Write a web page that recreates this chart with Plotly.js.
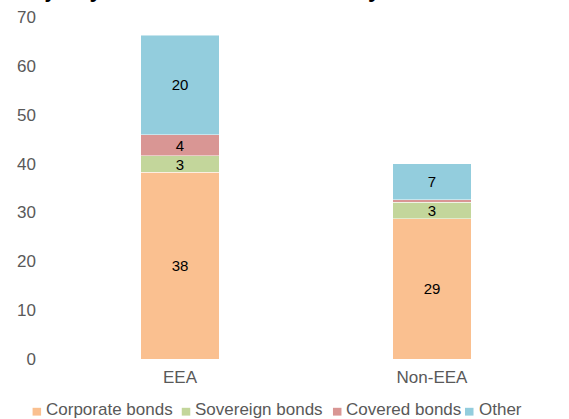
<!DOCTYPE html>
<html>
<head>
<meta charset="utf-8">
<script src="https://cdn.plot.ly/plotly-3.0.1.min.js"></script>
<style>html,body{margin:0;padding:0;background:#fff;}#chart{width:569px;height:419px;}</style>
</head>
<body>
<div id="chart"></div>
<script>
const categories = ['EEA', 'Non-EEA'];
const seriesNames = ['Corporate bonds', 'Sovereign bonds', 'Covered bonds', 'Other'];
const corporate = [38.2, 28.7];
const sovereign = [3.4, 3.4];
const covered = [4.3, 0.5];
const other = [20.4, 7.4];
const colors = ['#FAC090', '#C3D69B', '#D99694', '#93CDDD'];
const yTicks = [0, 10, 20, 30, 40, 50, 60, 70];
const titleText = 'Majority of instruments issued by EEA securities';

const seriesValues = [corporate, sovereign, covered, other];
const FONT = 'Liberation Sans, Arial, sans-serif';

const traces = seriesValues.map((vals, i) => ({
  type: 'bar',
  name: seriesNames[i],
  x: categories,
  y: vals,
  marker: {color: colors[i], line: {color: 'rgba(255,255,255,0.6)', width: 0.8}},
  text: vals.map(v => v >= 1 ? String(Math.round(v)) : ''),
  textposition: 'inside',
  insidetextanchor: 'middle',
  textangle: 0,
  constraintext: 'none',
  cliponaxis: false,
  textfont: {family: FONT, size: 15, color: '#000000'},
  hoverinfo: 'name+y',
  showlegend: false
}));

// custom legend (small squares + text) in paper coordinates
const legendX = [-0.0425, 0.2535, 0.5535, 0.8155];
const annotations = [];
const shapes = [];
seriesNames.forEach((n, i) => {
  shapes.push({type: 'rect', xref: 'paper', yref: 'paper',
    x0: legendX[i], x1: legendX[i] + 8.5/504, y0: -0.1427, y1: -0.1655,
    fillcolor: colors[i], line: {width: 0}});
  annotations.push({xref: 'paper', yref: 'paper', x: legendX[i] + 11.5/504, y: -0.147,
    xanchor: 'left', yanchor: 'middle', showarrow: false, text: n,
    font: {family: FONT, size: 17, color: '#595959'}});
});
annotations.push({xref: 'paper', yref: 'paper', x: -0.083, y: 1.039,
  xanchor: 'left', yanchor: 'bottom', showarrow: false, text: '<b>' + titleText + '</b>',
  font: {family: FONT, size: 23, color: '#000000'}});

const layout = {
  width: 569, height: 419,
  margin: {l: 54, r: 11, t: 17, b: 60, pad: 0},
  barmode: 'stack',
  bargap: 0.688,
  paper_bgcolor: '#ffffff',
  plot_bgcolor: '#ffffff',
  showlegend: false,
  uniformtext: {mode: 'show', minsize: 15},
  xaxis: {
    type: 'category',
    showgrid: false, zeroline: false, showline: false, ticks: '',
    tickfont: {family: FONT, size: 17, color: '#595959'},
    ticklabelstandoff: 6
  },
  yaxis: {
    range: [0, 70],
    tickvals: yTicks,
    showgrid: false, zeroline: false, showline: false, ticks: '',
    tickfont: {family: FONT, size: 17, color: '#595959'},
    ticklabelstandoff: 17
  },
  annotations: annotations,
  shapes: shapes
};

Plotly.newPlot('chart', traces, layout, {displayModeBar: false, staticPlot: true});
</script>
</body>
</html>
